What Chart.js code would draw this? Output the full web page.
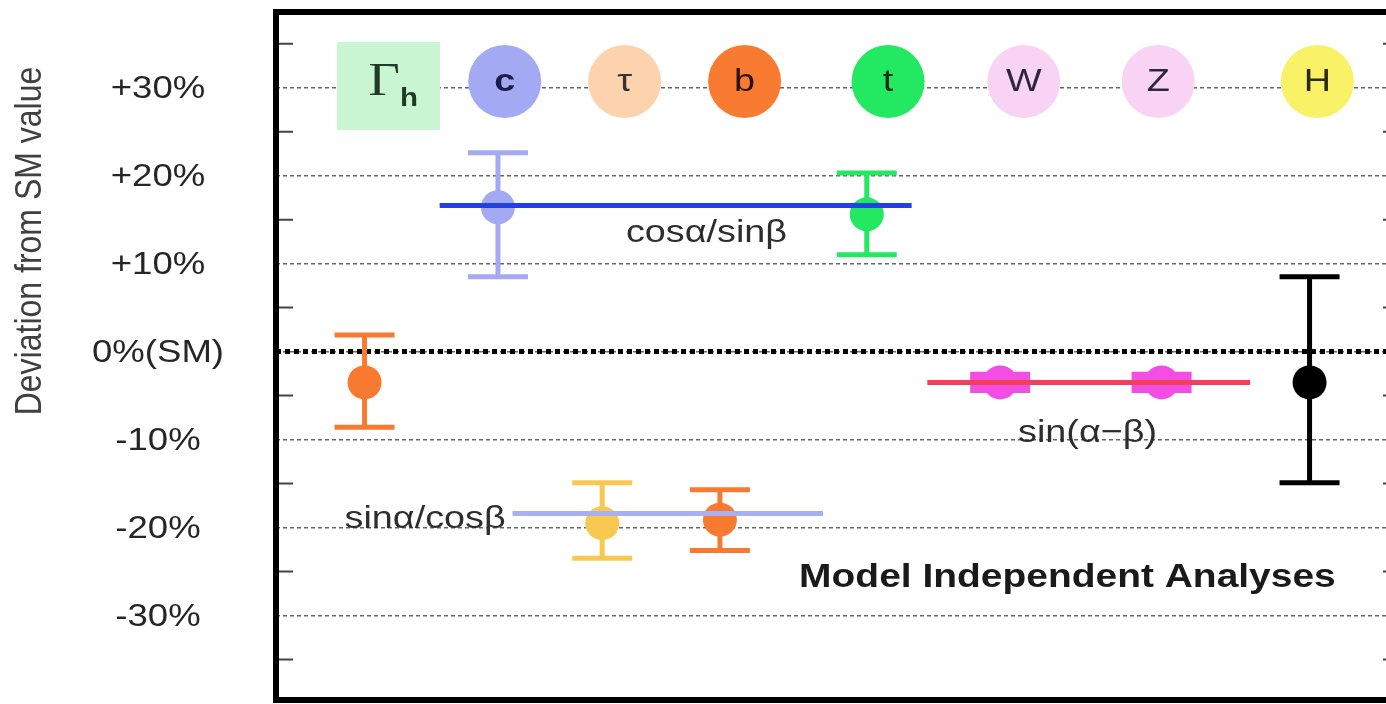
<!DOCTYPE html>
<html>
<head>
<meta charset="utf-8">
<script src="https://cdn.jsdelivr.net/npm/chart.js@4.4.0/dist/chart.umd.min.js"></script>
<style>
    html, body { margin: 0; padding: 0; background: #fff; overflow: hidden; }
</style>
</head>
<body>
<canvas id="chartDesviacion" width="1400" height="704"></canvas>
<script>
// columnas de etiquetas (eje horizontal en unidades arbitrarias 0-100)
const particulas = ["Γh", "c", "τ", "b", "t", "W", "Z", "H"];
const columnaEtiqueta = [10.0, 20.4, 31.1, 41.8, 54.6, 66.7, 78.7, 92.9];
const colorEtiqueta = ["#c9f5d2", "#a3a9f2", "#fdd3ae", "#f97b32", "#22e862", "#f9d3f4", "#f9d3f4", "#f9f266"];
const colorLetra = ["#1f3a25", "#1c1c4a", "#333333", "#2a1008", "#0c2a10", "#2c2640", "#2c2640", "#2a2a08"];
const filaEtiquetas = 30.7;
const filaCaja = 30.2;

// medidas: valor central y extremos de la barra de error (%)
const medidaNombre = ["Γh", "c", "τ", "b", "t", "W", "Z", "H"];
const medidaX = [7.9, 19.8, 29.1, 39.6, 52.7, 64.6, 79.0, 92.2];
const medidaValor = [-3.5, 16.4, -19.5, -19.1, 15.6, -3.5, -3.5, -3.5];
const errorSup = [1.9, 22.6, -14.9, -15.7, 20.3, -2.8, -2.8, 8.5];
const errorInf = [-8.6, 8.5, -23.5, -22.6, 11.0, -4.2, -4.2, -14.9];
const medidaColor = ["#f77a30", "#a3a9f2", "#f8c850", "#f77a30", "#22e862", "#f24ee4", "#f24ee4", "#000000"];
const grosorCap = [5, 5, 5, 5, 5, 9, 9, 5];

// ajustes globales
const ajusteNombre = ["cosα/sinβ", "sinα/cosβ", "sin(α−β)"];
const ajusteValor = [16.6, -18.4, -3.5];
const ajusteDesde = [14.6, 21.1, 58.1];
const ajusteHasta = [56.7, 48.8, 86.9];
const ajusteColor = ["#2340e0", "#a8b0f2", "#f2405a"];

// eje y
const ticksY = [-30, -20, -10, 0, 10, 20, 30];
const ticksYTexto = ["-30%", "-20%", "-10%", "0%(SM)", "+10%", "+20%", "+30%"];
const ticksMenores = [-35, -25, -15, -5, 5, 15, 25, 35];
const valorSM = 0;

// textos sobre el grafico
const notas = [
    { texto: "cosα/sinβ", x: 38.4, y: 13.5, negrita: false },
    { texto: "sinα/cosβ", x: 13.3, y: -19.1, negrita: false },
    { texto: "sin(α−β)", x: 72.4, y: -9.3, negrita: false },
    { texto: "Model Independent Analyses", x: 70.6, y: -25.7, negrita: true }
];

const FUENTE = "'Liberation Sans', Arial, sans-serif";
const ESTIRADO = 1.18;

function texto(ctx, str, px, py, font, color, align) {
    ctx.save();
    ctx.translate(px, py);
    ctx.scale(ESTIRADO, 1);
    ctx.font = font;
    ctx.fillStyle = color;
    ctx.textAlign = align || "center";
    ctx.textBaseline = "middle";
    ctx.fillText(str, 0, 0);
    ctx.restore();
}

const datasets = [];

ajusteNombre.forEach((nombre, i) => {
    datasets.push({
        type: "line",
        label: nombre,
        order: 0,
        data: [{ x: ajusteDesde[i], y: ajusteValor[i] }, { x: ajusteHasta[i], y: ajusteValor[i] }],
        borderColor: ajusteColor[i],
        borderWidth: 5,
        borderCapStyle: "butt",
        pointRadius: 0
    });
});

medidaNombre.forEach((nombre, i) => {
    const x = medidaX[i];
    datasets.push({
        type: "scatter",
        label: nombre,
        order: 1,
        data: [{ x: x, y: medidaValor[i] }],
        pointStyle: "circle",
        pointRadius: 17,
        pointBackgroundColor: medidaColor[i],
        pointBorderWidth: 0
    });
    datasets.push({
        type: "scatter",
        label: nombre + " error",
        order: 2,
        data: [{ x: x, y: errorInf[i] }, { x: x, y: errorSup[i] }],
        pointStyle: "line",
        pointRadius: 30,
        pointBorderColor: medidaColor[i],
        pointBorderWidth: grosorCap[i]
    });
    datasets.push({
        type: "line",
        label: nombre + " barra",
        order: 2,
        data: [{ x: x, y: errorInf[i] }, { x: x, y: errorSup[i] }],
        borderColor: medidaColor[i],
        borderWidth: 5,
        pointRadius: 0
    });
});

datasets.push({
    type: "line",
    label: "SM",
    order: 4,
    data: [{ x: 0, y: valorSM }, { x: 100, y: valorSM }],
    borderColor: "#000",
    borderWidth: 5,
    borderDash: [5, 4],
    borderCapStyle: "butt",
    pointRadius: 0
});

datasets.push({
    type: "scatter",
    label: "etiquetas",
    order: 5,
    data: columnaEtiqueta.map(c => ({ x: c, y: filaEtiquetas })),
    pointStyle: "circle",
    pointRadius: particulas.map((p, i) => i === 0 ? 0 : 36.5),
    pointBackgroundColor: colorEtiqueta,
    pointBorderWidth: 0
});

const dibujoExtra = {
    id: "dibujoExtra",
    beforeDatasetsDraw(chart) {
        const { ctx, scales: { x, y } } = chart;
        const cx = x.getPixelForValue(columnaEtiqueta[0]);
        const cy = y.getPixelForValue(filaCaja);
        ctx.save();
        ctx.fillStyle = colorEtiqueta[0];
        ctx.fillRect(cx - 51, cy - 44, 103, 88);
        ctx.restore();
    },
    afterDatasetsDraw(chart) {
        const { ctx, chartArea: area, scales: { x, y } } = chart;

        // letras de las particulas
        particulas.forEach((p, i) => {
            const px = x.getPixelForValue(columnaEtiqueta[i]);
            if (i === 0) {
                const py = y.getPixelForValue(filaCaja);
                texto(ctx, "Γ", px - 4, py - 3, "46px 'Liberation Serif', serif", colorLetra[0]);
                texto(ctx, "h", px + 21, py + 13, "bold 25px " + FUENTE, colorLetra[0]);
                return;
            }
            const peso = i === 1 ? "bold " : "";
            texto(ctx, p, px, y.getPixelForValue(filaEtiquetas) + 1, peso + "32px " + FUENTE, colorLetra[i]);
        });

        // notas
        notas.forEach(n => {
            texto(ctx, n.texto, x.getPixelForValue(n.x), y.getPixelForValue(n.y),
                (n.negrita ? "bold 33px " : "32px ") + FUENTE, n.negrita ? "#1a1a1a" : "#2e2e2e");
        });

        // etiquetas del eje y
        ticksY.forEach((v, i) => {
            texto(ctx, ticksYTexto[i], 158, y.getPixelForValue(v) + 2, "31px " + FUENTE, "#262626");
        });

        // titulo del eje y
        ctx.save();
        ctx.translate(31, 241);
        ctx.scale(ESTIRADO, 1);
        ctx.rotate(-Math.PI / 2);
        ctx.font = "32px " + FUENTE;
        ctx.fillStyle = "#404040";
        ctx.textAlign = "center";
        ctx.textBaseline = "middle";
        ctx.fillText("Deviation from SM value", 0, 0);
        ctx.restore();

        // marcas menores
        ctx.save();
        ctx.strokeStyle = "#444";
        ctx.lineWidth = 2;
        ticksMenores.forEach(v => {
            const py = y.getPixelForValue(v);
            ctx.beginPath();
            ctx.moveTo(area.left, py);
            ctx.lineTo(area.left + 17, py);
            ctx.moveTo(area.right - 14, py);
            ctx.lineTo(area.right, py);
            ctx.stroke();
        });
        // marco
        ctx.strokeStyle = "#000";
        ctx.lineWidth = 6;
        ctx.strokeRect(area.left, area.top, area.right - area.left, area.bottom - area.top);
        ctx.restore();
    }
};

new Chart(document.getElementById("chartDesviacion"), {
    type: "scatter",
    data: { datasets: datasets },
    plugins: [dibujoExtra],
    options: {
        responsive: false,
        animation: false,
        events: [],
        layout: { autoPadding: false, padding: { top: 12, right: 3, bottom: 4, left: 0 } },
        plugins: {
            legend: { display: false },
            tooltip: { enabled: false }
        },
        scales: {
            x: {
                type: "linear",
                min: 0,
                max: 100,
                display: false
            },
            y: {
                type: "linear",
                min: -39.6,
                max: 38.6,
                afterBuildTicks: s => { s.ticks = ticksY.map(v => ({ value: v })); },
                afterFit: s => { s.width = 276; s.paddingTop = 0; s.paddingBottom = 0; },
                grid: { color: "#666666", lineWidth: 1.5, drawTicks: false },
                border: { display: false, dash: [4, 3] },
                ticks: { display: false }
            }
        }
    }
});
</script>
</body>
</html>
